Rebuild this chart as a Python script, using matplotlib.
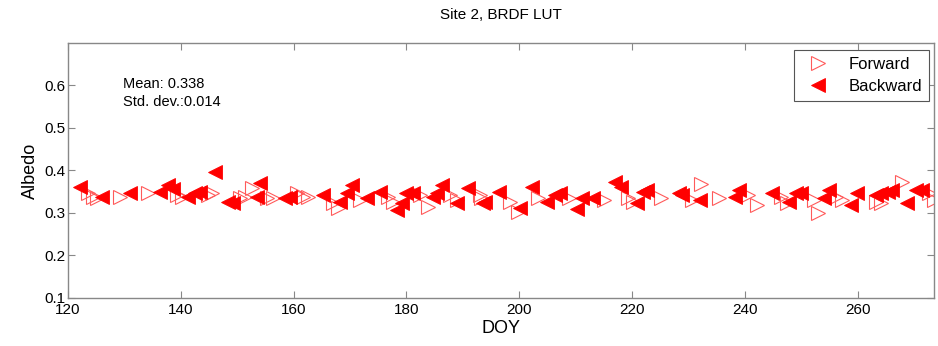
import matplotlib.pyplot as plt

plt.rcParams['font.family'] = ['Liberation Sans', 'DejaVu Sans']

# Forward (hollow right triangles)
fwd_doy = [123.5, 124.4, 125.1, 129.2, 134.2, 139.3, 140.2, 144.8, 145.5, 150.5,
           151.4, 152.6, 155.3, 156.3, 160.6, 161.6, 162.5, 167.0, 167.8, 171.7,
           176.7, 177.6, 182.4, 183.8, 187.7, 188.9, 193.0, 193.3, 198.3, 199.7,
           203.3, 208.9, 215.1, 219.2, 220.1, 225.2, 230.7, 232.3, 235.5, 240.5,
           242.2, 246.5, 247.5, 252.3, 252.9, 256.2, 257.3, 263.3, 264.2, 267.9,
           272.7, 273.6]
fwd_alb = [0.347, 0.338, 0.335, 0.338, 0.347, 0.342, 0.338, 0.342, 0.347, 0.335,
           0.338, 0.358, 0.335, 0.335, 0.347, 0.338, 0.338, 0.323, 0.312, 0.330,
           0.338, 0.326, 0.342, 0.314, 0.342, 0.330, 0.342, 0.335, 0.326, 0.302,
           0.335, 0.335, 0.330, 0.335, 0.326, 0.335, 0.330, 0.368, 0.335, 0.342,
           0.319, 0.338, 0.323, 0.330, 0.300, 0.338, 0.330, 0.326, 0.323, 0.373,
           0.347, 0.330]

# Backward (filled left triangles)
bwd_doy = [122.1, 126.0, 131.0, 136.3, 137.7, 138.6, 141.3, 142.5, 143.4, 146.0,
           148.3, 149.2, 153.5, 154.0, 158.4, 159.3, 165.2, 168.2, 169.4, 170.3,
           173.0, 175.3, 178.3, 179.2, 180.0, 181.1, 184.7, 185.4, 186.3, 188.9,
           190.9, 193.5, 193.9, 196.5, 200.1, 202.2, 205.0, 206.3, 207.2, 210.2,
           211.1, 213.0, 216.9, 218.1, 220.8, 221.9, 222.7, 228.4, 228.9, 232.0,
           238.2, 239.0, 244.9, 247.9, 249.1, 250.0, 254.1, 255.0, 258.9, 259.8,
           263.3, 264.2, 265.3, 266.1, 268.8, 270.4, 271.5]
bwd_alb = [0.361, 0.338, 0.347, 0.349, 0.366, 0.357, 0.338, 0.347, 0.350, 0.396,
           0.326, 0.323, 0.338, 0.370, 0.335, 0.338, 0.342, 0.326, 0.347, 0.366,
           0.335, 0.350, 0.307, 0.323, 0.347, 0.347, 0.338, 0.347, 0.366, 0.323,
           0.359, 0.323, 0.326, 0.350, 0.312, 0.361, 0.326, 0.342, 0.347, 0.310,
           0.335, 0.335, 0.373, 0.361, 0.323, 0.350, 0.354, 0.347, 0.342, 0.330,
           0.338, 0.354, 0.347, 0.326, 0.347, 0.347, 0.335, 0.354, 0.319, 0.347,
           0.342, 0.347, 0.350, 0.354, 0.323, 0.354, 0.354]

fig = plt.figure(figsize=(9.38, 3.46), dpi=100)
ax = fig.add_axes([0.0725, 0.139, 0.923, 0.737])

ax.plot(fwd_doy, fwd_alb, linestyle='none', marker='>', markersize=10,
        markerfacecolor='none', markeredgecolor='#ff5a5a', markeredgewidth=0.8,
        label='Forward')
ax.plot(bwd_doy, bwd_alb, linestyle='none', marker='<', markersize=10,
        markerfacecolor='red', markeredgecolor='red', markeredgewidth=0.6,
        label='Backward')

ax.set_xlim(120, 273.5)
ax.set_ylim(0.1, 0.7)
ax.set_xticks(range(120, 261, 20))
ax.set_yticks([0.1, 0.2, 0.3, 0.4, 0.5, 0.6])
ax.set_yticklabels(['0.1', '0.2', '0.3', '0.4', '0.5', '0.6'])
ax.tick_params(direction='in', top=True, right=True, length=5, width=0.8,
               color='#888888', labelsize=11, labelcolor='black')
ax.tick_params(axis='x', pad=4)
ax.tick_params(axis='y', pad=2)
for s in ax.spines.values():
    s.set_color('#888888')
    s.set_linewidth(1.0)

ax.set_xlabel('DOY', fontsize=13, labelpad=2)
ax.set_ylabel('Albedo', fontsize=13, labelpad=4)
ax.set_title('Site 2, BRDF LUT', fontsize=11, pad=17)

ax.text(0.0635, 0.805, 'Mean: 0.338\nStd. dev.:0.014', transform=ax.transAxes,
        fontsize=10.5, va='center', ha='left', linespacing=1.35)

leg = ax.legend(loc='upper right', fontsize=12, fancybox=False, framealpha=1,
                edgecolor='#555555', borderpad=0.45, handletextpad=0.8,
                labelspacing=0.4, borderaxespad=0,
                bbox_to_anchor=(0.995, 0.973))
leg.get_frame().set_linewidth(0.8)

fig.savefig('out.png', dpi=100)
